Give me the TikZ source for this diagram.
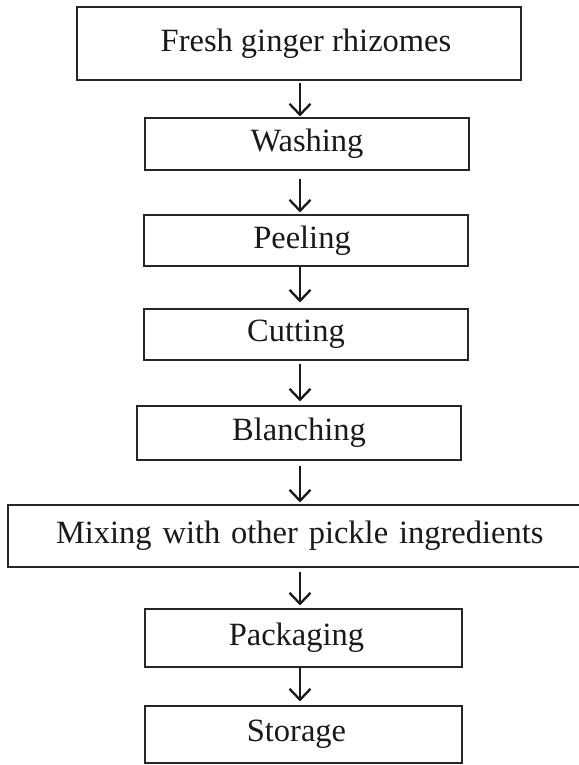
\documentclass[tikz,border=0pt]{standalone}
\usepackage{fontspec}
\setmainfont{Liberation Serif}
\usetikzlibrary{arrows.meta,calc}
\begin{document}
\begin{tikzpicture}[x=1pt,y=-1pt,
  stepbox/.style={draw=black!85, line width=1.1pt, inner sep=0pt, text=black!90,
    font=\fontsize{32.5}{38}\selectfont},
  arr/.style={line width=2.3pt, draw=black!90,
    -{Straight Barb[length=11pt,width=21pt,line width=2.3pt]}}]
\useasboundingbox (0,0) rectangle (578,765);
\coordinate (ax) at (300,0);
\node[stepbox, minimum width=444pt, minimum height=73pt] (b1) at (299,43.5) {\hspace*{14pt}Fresh ginger rhizomes};
\node[stepbox, minimum width=324pt, minimum height=52pt] (b2) at (307,144) {Washing};
\node[stepbox, minimum width=324pt, minimum height=51pt] (b3) at (306,240.5) {Peeling\hspace*{8pt}};
\node[stepbox, minimum width=324pt, minimum height=51pt] (b4) at (306,334.5) {Cutting\hspace*{20pt}};
\node[stepbox, minimum width=324pt, minimum height=54pt] (b5) at (299,433) {Blanching};
\node[stepbox, minimum width=576pt, minimum height=62pt, text width=576pt, align=left] (b6) at (296,536) {\hspace*{48pt}Mixing with other pickle ingredients};
\node[stepbox, minimum width=317pt, minimum height=58pt] (b7) at (303.5,638) {Packaging\hspace*{14pt}};
\node[stepbox, minimum width=317pt, minimum height=57pt] (b8) at (303.5,734.5) {Storage\hspace*{14pt}};
\draw[arr] ($(b1.south -| ax)+(0,2)$) -- ($(b2.north -| ax)+(0,-1)$);
\draw[arr] ($(b2.south -| ax)+(0,8)$) -- ($(b3.north -| ax)+(0,-2)$);
\draw[arr] ($(b3.south -| ax)+(0,0)$) -- ($(b4.north -| ax)+(0,-6)$);
\draw[arr] ($(b4.south -| ax)+(0,3)$) -- ($(b5.north -| ax)+(0,-4)$);
\draw[arr] ($(b5.south -| ax)+(0,5)$) -- ($(b6.north -| ax)+(0,-2)$);
\draw[arr] ($(b6.south -| ax)+(0,4)$) -- ($(b7.north -| ax)+(0,-3)$);
\draw[arr] ($(b7.south -| ax)+(0,0)$) -- ($(b8.north -| ax)+(0,-4)$);
\end{tikzpicture}
\end{document}
